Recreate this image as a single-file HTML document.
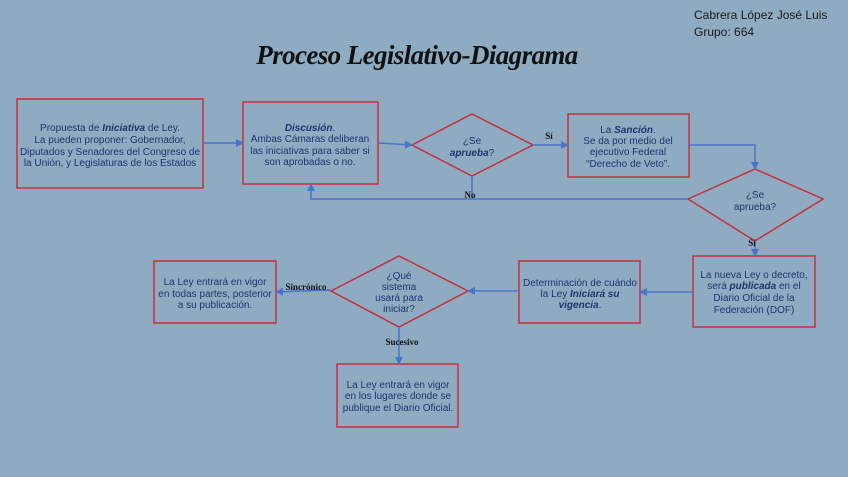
<!DOCTYPE html>
<html><head><meta charset="utf-8"><style>
html,body{margin:0;padding:0;background:#8eabc2;}
svg{display:block}
.t{font-family:"Liberation Sans",sans-serif;font-size:10px;fill:#1f3470;text-anchor:middle}
.l{font-family:"Liberation Serif",serif;font-size:9px;font-weight:bold;fill:#111;text-anchor:middle}
</style></head><body>
<svg width="848" height="477" viewBox="0 0 848 477" xmlns="http://www.w3.org/2000/svg">
<defs><marker id="a" markerWidth="8" markerHeight="8" refX="7" refY="4" orient="auto" markerUnits="userSpaceOnUse"><path d="M0,0 L8,4 L0,8 z" fill="#4a74c9"/></marker></defs>
<rect width="848" height="477" fill="#8eabc2"/>
<text x="694" y="19" font-family="Liberation Sans,sans-serif" font-size="12" fill="#1a1a1a">Cabrera López José Luis</text>
<text x="694" y="36" font-family="Liberation Sans,sans-serif" font-size="12" fill="#1a1a1a">Grupo: 664</text>
<text x="417" y="64" font-family="Liberation Serif,serif" font-size="27" font-style="italic" font-weight="bold" fill="#111" text-anchor="middle" letter-spacing="-0.6">Proceso Legislativo-Diagrama</text>
<g fill="none" stroke="#c8303c" stroke-width="1.5">
<rect x="17" y="99" width="186" height="89"/>
<rect x="243" y="102" width="135" height="82"/>
<polygon points="412,145 472,114 533,145 472,176"/>
<rect x="568" y="114" width="121" height="63"/>
<polygon points="688,199 755,169 823,199 755,241"/>
<rect x="693" y="256" width="122" height="71"/>
<rect x="519" y="261" width="121" height="62"/>
<polygon points="331,291 399,256 468,291 399,327"/>
<rect x="154" y="261" width="122" height="62"/>
<rect x="337" y="364" width="121" height="63"/>
</g>
<g fill="none" stroke="#4a74c9" stroke-width="1.5">
<line x1="203" y1="143" x2="243" y2="143" marker-end="url(#a)"/>
<line x1="378" y1="143" x2="412" y2="145" marker-end="url(#a)"/>
<line x1="533" y1="145" x2="568" y2="145" marker-end="url(#a)"/>
<polyline points="689,145 755,145 755,169" marker-end="url(#a)"/>
<polyline points="688,199 311,199 311,184" marker-end="url(#a)"/>
<line x1="472" y1="176" x2="472" y2="199"/>
<line x1="755" y1="241" x2="755" y2="256" marker-end="url(#a)"/>
<line x1="693" y1="292" x2="640" y2="292" marker-end="url(#a)"/>
<line x1="519" y1="291" x2="468" y2="291" marker-end="url(#a)"/>
<line x1="331" y1="290" x2="276" y2="292" marker-end="url(#a)"/>
<line x1="399" y1="327" x2="399" y2="364" marker-end="url(#a)"/>
</g>
<text class="l" x="549" y="139">Sí</text>
<text class="l" x="470" y="198">No</text>
<text class="l" x="752" y="246">Sí</text>
<text class="l" x="306" y="290">Sincrónico</text>
<text class="l" x="402" y="345">Sucesivo</text>
<text class="t"><tspan x="110" y="131">Propuesta de <tspan font-weight="bold" font-style="italic">Iniciativa</tspan> de Ley.</tspan><tspan x="110" y="143">La pueden proponer: Gobernador,</tspan><tspan x="110" y="155">Diputados y Senadores del Congreso de</tspan><tspan x="110" y="166">la Unión, y Legislaturas de los Estados</tspan></text>
<text class="t"><tspan x="310" y="131"><tspan font-weight="bold" font-style="italic">Discusión</tspan>.</tspan><tspan x="310" y="142">Ambas Cámaras deliberan</tspan><tspan x="310" y="154">las iniciativas para saber si</tspan><tspan x="310" y="165">son aprobadas o no.</tspan></text>
<text class="t"><tspan x="472" y="144">¿Se</tspan><tspan x="472" y="156"><tspan font-weight="bold" font-style="italic">aprueba</tspan>?</tspan></text>
<text class="t"><tspan x="628" y="133">La <tspan font-weight="bold" font-style="italic">Sanción</tspan>.</tspan><tspan x="628" y="144">Se da por medio del</tspan><tspan x="628" y="155">ejecutivo Federal</tspan><tspan x="628" y="167">“Derecho de Veto”.</tspan></text>
<text class="t"><tspan x="755" y="198">¿Se</tspan><tspan x="755" y="210">aprueba?</tspan></text>
<text class="t"><tspan x="754" y="278">La nueva Ley o decreto,</tspan><tspan x="754" y="289">será <tspan font-weight="bold" font-style="italic">publicada</tspan> en el</tspan><tspan x="754" y="301">Diario Oficial de la</tspan><tspan x="754" y="313">Federación (DOF)</tspan></text>
<text class="t"><tspan x="580" y="286">Determinación de cuándo</tspan><tspan x="580" y="297">la Ley <tspan font-weight="bold" font-style="italic">Iniciará su</tspan></tspan><tspan x="580" y="308"><tspan font-weight="bold" font-style="italic">vigencia</tspan>.</tspan></text>
<text class="t"><tspan x="399" y="279">¿Qué</tspan><tspan x="399" y="290">sistema</tspan><tspan x="399" y="301">usará para</tspan><tspan x="399" y="312">iniciar?</tspan></text>
<text class="t"><tspan x="215" y="285">La Ley entrará en vigor</tspan><tspan x="215" y="297">en todas partes, posterior</tspan><tspan x="215" y="308">a su publicación.</tspan></text>
<text class="t"><tspan x="398" y="388">La Ley entrará en vigor</tspan><tspan x="398" y="399">en los lugares donde se</tspan><tspan x="398" y="411">publique el Diario Oficial.</tspan></text>
</svg>
</body></html>
